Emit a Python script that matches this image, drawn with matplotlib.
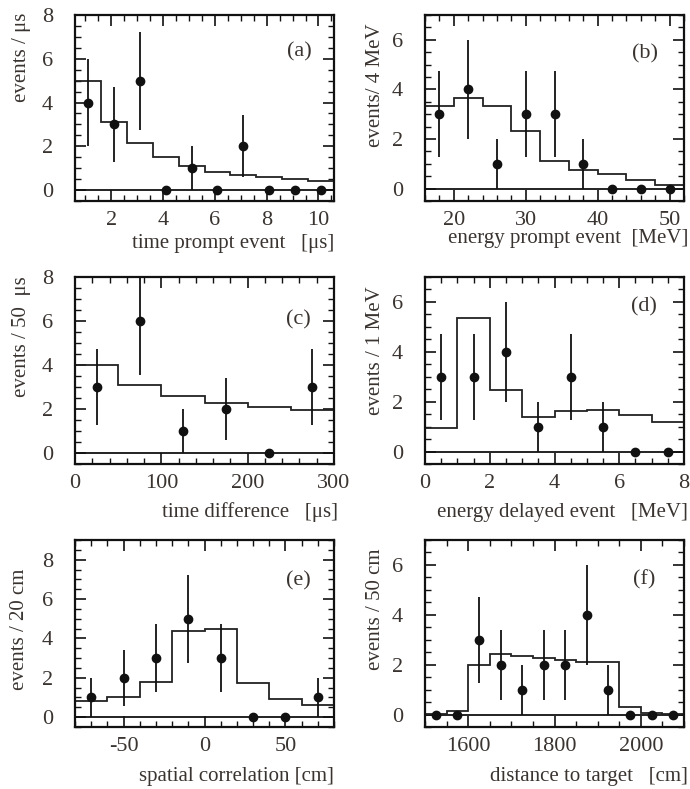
import matplotlib
matplotlib.use("Agg")
import matplotlib.pyplot as plt
from matplotlib.ticker import MultipleLocator

plt.rcParams['font.family'] = ['Liberation Serif', 'DejaVu Serif']
plt.rcParams['axes.unicode_minus'] = False

TXT = '#3a3431'

# (a) time prompt event
a_edges = [0.6, 1.6, 2.6, 3.6, 4.6, 5.6, 6.6, 7.6, 8.6, 9.6, 10.6]
a_hist = [5.0, 3.12, 2.15, 1.52, 1.11, 0.84, 0.69, 0.59, 0.5, 0.42]
a_x = [1.1, 2.1, 3.1, 4.1, 5.1, 6.1, 7.1, 8.1, 9.1, 10.1]
a_n = [4, 3, 5, 0, 1, 0, 2, 0, 0, 0]
a_err = [2.0, 1.73, 2.24, 0, 1.0, 0, 1.41, 0, 0, 0]

# (b) energy prompt event
b_edges = [16, 20, 24, 28, 32, 36, 40, 44, 48, 52]
b_hist = [3.34, 3.66, 3.34, 2.31, 1.11, 0.77, 0.58, 0.36, 0.13]
b_x = [18, 22, 26, 30, 34, 38, 42, 46, 50]
b_n = [3, 4, 1, 3, 3, 1, 0, 0, 0]
b_err = [1.73, 2.0, 1.0, 1.73, 1.73, 1.0, 0, 0, 0]

# (c) time difference
c_edges = [0, 50, 100, 150, 200, 250, 300]
c_hist = [4.02, 3.08, 2.59, 2.29, 2.1, 1.94]
c_x = [25, 75, 125, 175, 225, 275]
c_n = [3, 6, 1, 2, 0, 3]
c_err = [1.73, 2.45, 1.0, 1.41, 0, 1.73]

# (d) energy delayed event
d_edges = [0, 1, 2, 3, 4, 5, 6, 7, 8]
d_hist = [0.94, 5.37, 2.47, 1.38, 1.61, 1.65, 1.45, 1.19]
d_x = [0.5, 1.5, 2.5, 3.5, 4.5, 5.5, 6.5, 7.5]
d_n = [3, 3, 4, 1, 3, 1, 0, 0]
d_err = [1.73, 1.73, 2.0, 1.0, 1.73, 1.0, 0, 0]

# (e) spatial correlation
e_edges = [-80, -60, -40, -20, 0, 20, 40, 60, 80]
e_hist = [0.8, 1.02, 1.8, 4.39, 4.46, 1.73, 0.92, 0.64]
e_x = [-70, -50, -30, -10, 10, 30, 50, 70]
e_n = [1, 2, 3, 5, 3, 0, 0, 1]
e_err = [1.0, 1.41, 1.73, 2.24, 1.73, 0, 0, 1.0]

# (f) distance to target
f_edges = [1500, 1550, 1600, 1650, 1700, 1750, 1800, 1850, 1900, 1950, 2000, 2050, 2100]
f_hist = [0.02, 0.13, 2.0, 2.42, 2.33, 2.27, 2.2, 2.12, 2.12, 0.3, 0.08, 0.02]
f_x = [1525, 1575, 1625, 1675, 1725, 1775, 1825, 1875, 1925, 1975, 2025, 2075]
f_n = [0, 0, 3, 2, 1, 2, 2, 4, 1, 0, 0, 0]
f_err = [0, 0, 1.73, 1.41, 1.0, 1.41, 1.41, 2.0, 1.0, 0, 0, 0]

W, H = 690, 789
fig = plt.figure(figsize=(W / 100, H / 100), dpi=100)


def box(l, t, r, b):
    return [l / W, 1 - b / H, (r - l) / W, (b - t) / H]


def fpos(x, y):
    return x / W, 1 - y / H


panels = [
    # edges, hist, x, n, err, rect(px), xlim, ylim, xmajor, xminor, yticks,
    # xlabel, xlabel pos, ylabel, ylabel pos, tag, tag pos
    (a_edges, a_hist, a_x, a_n, a_err, (75, 15, 334, 201), (0.6, 10.6), (-0.5, 8), 2, 0.5, [0, 2, 4, 6, 8],
     'time prompt event   [μs]', (334, 243), 'events / μs', (22, 13), '(a)', (299, 52)),
    (b_edges, b_hist, b_x, b_n, b_err, (425, 15, 684, 201), (16, 52), (-0.5, 7), 10, 2, [0, 2, 4, 6],
     'energy prompt event  [MeV]', (688, 238), 'events/ 4 MeV', (376, 23), '(b)', (645, 54)),
    (c_edges, c_hist, c_x, c_n, c_err, (75, 277, 334, 464), (0, 300), (-0.5, 8), 100, 20, [0, 2, 4, 6, 8],
     'time difference   [μs]', (338, 512), 'events / 50  μs', (22, 276), '(c)', (298, 320)),
    (d_edges, d_hist, d_x, d_n, d_err, (425, 277, 684, 464), (0, 8), (-0.5, 7), 2, 0.5, [0, 2, 4, 6],
     'energy delayed event   [MeV]', (688, 512), 'events / 1 MeV', (376, 286), '(d)', (644, 307)),
    (e_edges, e_hist, e_x, e_n, e_err, (75, 540, 334, 727), (-80, 80), (-0.5, 9), 50, 10, [0, 2, 4, 6, 8],
     'spatial correlation [cm]', (334, 777), 'events / 20 cm', (20, 569), '(e)', (298, 581)),
    (f_edges, f_hist, f_x, f_n, f_err, (425, 540, 684, 727), (1500, 2100), (-0.5, 7), 200, 50, [0, 2, 4, 6],
     'distance to target   [cm]', (688, 777), 'events / 50 cm', (376, 548), '(f)', (644, 580)),
]

for (edges, hist, xs, ns, errs, rect, xlim, ylim, xmaj, xmin, yticks,
     xlab, xlp, ylab, ylp, tag, tp) in panels:
    ax = fig.add_axes(box(*rect))
    ax.axhline(0, color='#111111', lw=1.3, zorder=1)
    ax.stairs(hist, edges, baseline=None, color='#222222', lw=1.3, zorder=2)
    ax.errorbar(xs, ns, yerr=errs, fmt='o', color='#111111', ms=6, elinewidth=1.3,
                capsize=0, zorder=3)
    ax.set_xlim(*xlim)
    ax.set_ylim(*ylim)
    ax.xaxis.set_major_locator(MultipleLocator(xmaj))
    ax.xaxis.set_minor_locator(MultipleLocator(xmin))
    ax.set_yticks(yticks)
    ax.yaxis.set_minor_locator(MultipleLocator(0.5))
    ax.tick_params(which='both', direction='in', top=True, right=True, colors='#111111',
                   labelcolor=TXT, labelsize=16)
    ax.tick_params(which='major', length=8, width=1.2)
    ax.tick_params(which='minor', length=4, width=1.0)
    ax.tick_params(axis='x', pad=7)
    ax.tick_params(axis='y', pad=16)
    for s in ax.spines.values():
        s.set_linewidth(1.6)
        s.set_color('#111111')
    x, y = fpos(*xlp)
    fig.text(x, y, xlab, ha='right', va='center', fontsize=15, color=TXT)
    x, y = fpos(*ylp)
    fig.text(x, y, ylab, ha='center', va='top', rotation=90, fontsize=15, color=TXT)
    x, y = fpos(*tp)
    fig.text(x, y, tag, ha='center', va='center', fontsize=16, color=TXT)

fig.savefig('out.png', dpi=100)
